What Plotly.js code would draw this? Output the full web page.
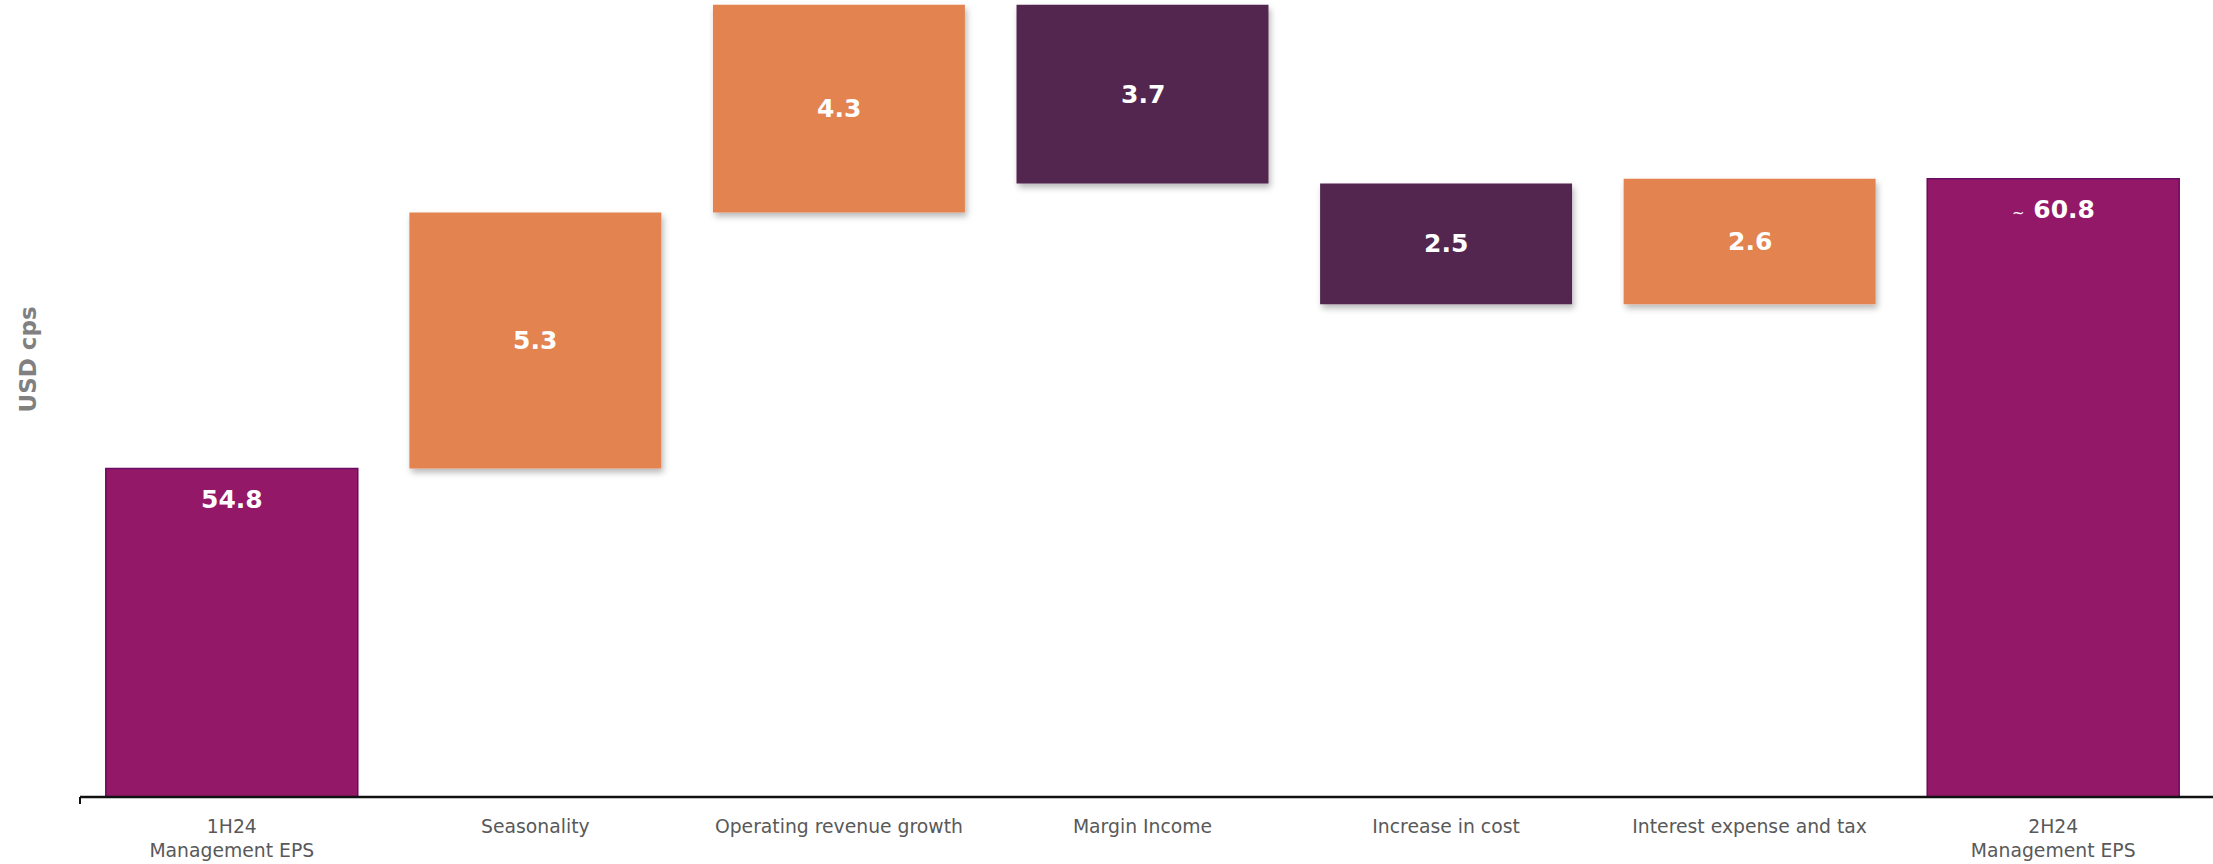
<!DOCTYPE html>
<html><head><meta charset="utf-8">
<script src="https://cdn.plot.ly/plotly-3.0.1.min.js"></script>
<style>html,body{margin:0;padding:0;background:#fff;overflow:hidden}</style>
</head><body>
<svg width="0" height="0" style="position:absolute"><defs>
<filter id="barShadow" x="-10%" y="-10%" width="130%" height="140%">
<feDropShadow dx="2" dy="4" stdDeviation="3" flood-color="#000" flood-opacity="0.28"/>
</filter></defs></svg>
<div id="chart" style="width:2213px;height:864px"></div>
<script>
// ---- data ----
const categories = ["1H24<br>Management EPS", "Seasonality", "Operating revenue growth", "Margin Income", "Increase in cost", "Interest expense and tax", "2H24<br>Management EPS"];
const measures = ["absolute", "relative", "relative", "relative", "relative", "relative", "total"];
const values = [54.8, 5.3, 4.3, -3.7, -2.5, 2.6, 0];
const labelPrefix = ["", "", "", "", "", "", "<span style='font-size:15px;font-weight:normal'>~</span> "];
const yAxisTitle = "USD cps";

// ---- styles ----
const cIncrease = "#E38350", cDecrease = "#52274F", cTotal = "#931868";
const tickFont = {family: "DejaVu Sans", size: 18.8, color: "#595959"};

const trace = {
  type: "waterfall",
  x: categories,
  y: values,
  measure: measures,
  textinfo: "none",
  hoverinfo: "none",
  connector: {visible: false},
  increasing: {marker: {color: cIncrease}},
  decreasing: {marker: {color: cDecrease}},
  totals: {marker: {color: cTotal, line: {color: "#6A0C62", width: 1.5}}}
};

// value labels placed through the axis scales
const annotations = [];
let running = 0;
values.forEach((v, i) => {
  let yPos, shift, text;
  if (measures[i] === "absolute") { running = v; yPos = running; shift = -31; text = running.toFixed(1); }
  else if (measures[i] === "total") { yPos = running; shift = -31; text = running.toFixed(1); }
  else { yPos = running + v / 2; running += v; shift = 0; text = Math.abs(v).toFixed(1); }
  annotations.push({
    x: categories[i], y: yPos, xref: "x", yref: "y", yshift: shift,
    text: "<b>" + labelPrefix[i] + text + "</b>", showarrow: false,
    xanchor: "center", yanchor: "middle",
    font: {family: "DejaVu Sans", size: 25, color: "#ffffff"}
  });
});
annotations.push({
  text: "<b>" + yAxisTitle + "</b>", xref: "paper", yref: "paper",
  x: 0, xshift: -52.5, y: (797 - 360) / 797, textangle: -90,
  showarrow: false, xanchor: "center", yanchor: "middle",
  font: {family: "DejaVu Sans", size: 23, color: "#808080"}
});

const layout = {
  width: 2213, height: 864,
  margin: {l: 80, r: 8, t: 0, b: 67, pad: 0},
  paper_bgcolor: "#ffffff", plot_bgcolor: "#ffffff",
  showlegend: false,
  waterfallgap: 0.17,
  xaxis: {
    type: "category", showgrid: false, zeroline: false, showline: false,
    ticks: "", tickfont: tickFont, ticklabelstandoff: 16, fixedrange: true
  },
  yaxis: {
    range: [48, 64.5], showgrid: false, zeroline: false, showline: false,
    showticklabels: false, ticks: "", fixedrange: true
  },
  shapes: [
    {type: "line", xref: "paper", yref: "paper", x0: 0, x1: 1.01, y0: 0, y1: 0,
     line: {color: "#111111", width: 2.5}, layer: "above"},
    {type: "line", xref: "paper", yref: "paper", x0: 0, x1: 0, ysizemode: "pixel", yanchor: 0,
     y0: 0, y1: -7, line: {color: "#111111", width: 2}, layer: "above"}
  ],
  annotations: annotations
};

Plotly.newPlot("chart", [trace], layout, {displayModeBar: false, staticPlot: true}).then(() => {
  const pts = document.querySelectorAll("#chart .trace .point path");
  pts.forEach((p, i) => {
    if (measures[i] === "relative") p.setAttribute("filter", "url(#barShadow)");
  });
});
</script>
</body></html>
